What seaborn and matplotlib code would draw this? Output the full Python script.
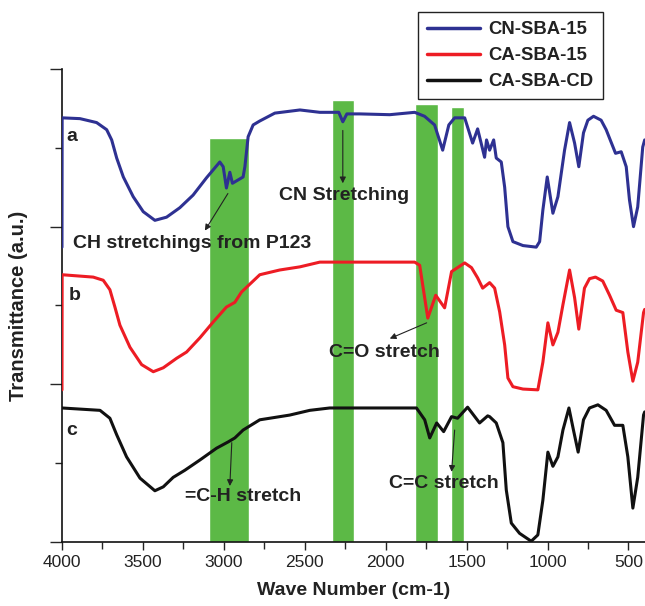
import matplotlib
matplotlib.use("Agg")
import matplotlib.pyplot as plt
import numpy as np
import pandas as pd
import seaborn as sns

# wave numbers (cm-1) and transmittance (a.u.)
wn_a = [4000, 3999, 3889, 3786, 3724, 3693, 3662, 3621, 3560, 3498, 3426, 3354, 3272,
        3190, 3107, 3025, 3004, 2984, 2963, 2947, 2881, 2870, 2850, 2819, 2778, 2685,
        2530, 2407, 2290, 2265, 2240, 2160, 1975, 1821, 1760, 1698, 1648, 1610, 1574,
        1512, 1463, 1432, 1389, 1377, 1358, 1333, 1317, 1286, 1265, 1245, 1214, 1152,
        1070, 1049, 1029, 1002, 967, 936, 895, 864, 833, 807, 778, 751, 716, 669, 638,
        580, 545, 514, 494, 469, 443, 412, 400]
tr_a = [3.74, 5.38, 5.37, 5.32, 5.23, 5.10, 4.87, 4.63, 4.38, 4.19, 4.08, 4.12, 4.24,
        4.40, 4.62, 4.82, 4.76, 4.49, 4.69, 4.55, 4.63, 4.76, 5.14, 5.29, 5.34, 5.44,
        5.48, 5.45, 5.45, 5.33, 5.43, 5.43, 5.42, 5.45, 5.40, 5.29, 4.97, 5.29, 5.38,
        5.38, 5.06, 5.24, 4.88, 5.10, 4.97, 5.10, 4.87, 4.82, 4.50, 4.00, 3.81, 3.76,
        3.74, 3.81, 4.21, 4.63, 4.17, 4.38, 4.97, 5.32, 5.06, 4.76, 5.19, 5.35, 5.40,
        5.35, 5.23, 4.93, 4.95, 4.76, 4.34, 4.00, 4.25, 5.01, 5.10]

wn_b = [4000, 3999, 3807, 3745, 3704, 3673, 3642, 3580, 3508, 3436, 3374, 3292, 3230,
        3148, 3066, 2984, 2932, 2891, 2778, 2655, 2530, 2407, 2000, 1821, 1790, 1740,
        1691, 1636, 1593, 1512, 1470, 1432, 1401, 1358, 1327, 1296, 1265, 1245, 1214,
        1152, 1060, 1029, 998, 967, 936, 905, 864, 833, 807, 772, 741, 704, 659, 617,
        576, 535, 504, 473, 443, 407, 400]
tr_b = [1.93, 3.39, 3.36, 3.32, 3.20, 2.98, 2.75, 2.47, 2.25, 2.16, 2.21, 2.33, 2.41,
        2.59, 2.79, 2.98, 3.04, 3.17, 3.39, 3.45, 3.49, 3.55, 3.55, 3.55, 3.51, 2.84,
        3.13, 2.97, 3.43, 3.54, 3.48, 3.35, 3.22, 3.29, 3.22, 2.92, 2.50, 2.08, 1.97,
        1.94, 1.93, 2.28, 2.78, 2.50, 2.66, 3.01, 3.45, 3.10, 2.70, 3.22, 3.34, 3.36,
        3.31, 3.13, 2.94, 2.91, 2.41, 2.04, 2.28, 2.91, 2.95]

wn_c = [4000, 3765, 3704, 3662, 3601, 3518, 3426, 3374, 3313, 3241, 3148, 3045, 2973,
        2932, 2881, 2778, 2716, 2593, 2469, 2346, 1810, 1759, 1728, 1685, 1642, 1593,
        1556, 1494, 1420, 1370, 1358, 1317, 1276, 1255, 1224, 1173, 1101, 1060, 1029,
        998, 967, 936, 905, 868, 840, 811, 778, 741, 689, 638, 586, 535, 504, 473, 443,
        407, 400]
tr_c = [1.70, 1.67, 1.57, 1.36, 1.08, 0.81, 0.65, 0.70, 0.82, 0.91, 1.04, 1.19, 1.27,
        1.32, 1.42, 1.55, 1.57, 1.61, 1.67, 1.70, 1.70, 1.55, 1.32, 1.51, 1.40, 1.59,
        1.57, 1.71, 1.51, 1.60, 1.59, 1.51, 1.26, 0.66, 0.24, 0.11, 0.01, 0.09, 0.53,
        1.14, 0.96, 1.08, 1.42, 1.70, 1.42, 1.14, 1.55, 1.70, 1.74, 1.67, 1.48, 1.48,
        1.08, 0.43, 0.82, 1.61, 1.65]

series = ["CN-SBA-15", "CA-SBA-15", "CA-SBA-CD"]
colors = ["#2e3192", "#ed1c24", "#111111"]
curve_labels = ["a", "b", "c"]

# highlighted bands: start, end (cm-1), top
band_lo = [3090, 2333, 1821, 1599]
band_hi = [2845, 2198, 1679, 1519]
band_top = [5.13, 5.61, 5.55, 5.52]

df = pd.concat([
    pd.DataFrame({"wn": wn_a, "T": tr_a, "sample": series[0]}),
    pd.DataFrame({"wn": wn_b, "T": tr_b, "sample": series[1]}),
    pd.DataFrame({"wn": wn_c, "T": tr_c, "sample": series[2]}),
])

sns.set_style("ticks")
plt.rcParams["font.family"] = ["Liberation Sans", "DejaVu Sans"]

fig = plt.figure(figsize=(6.45, 6.06), dpi=100)
ax = fig.add_axes([0.0961, 0.1056, 0.9039, 0.7806])

centers = [(lo + hi) / 2 for lo, hi in zip(band_lo, band_hi)]
widths = [lo - hi for lo, hi in zip(band_lo, band_hi)]
ax.bar(centers, band_top, width=widths, color="#5cb946", zorder=1)

for name, col in zip(series, colors):
    sub = df[df["sample"] == name]
    sns.lineplot(x=sub["wn"].values, y=sub["T"].values, color=col, lw=2.2,
                 estimator=None, sort=False, ax=ax, label=name, zorder=3,
                 solid_joinstyle="round", solid_capstyle="round")

ax.set_xlim(4000, 398)
ax.set_ylim(0, 6)
ax.set_xticks([4000, 3500, 3000, 2500, 2000, 1500, 1000, 500])
ax.set_xticks(np.arange(3750, 398, -500), minor=True)
ax.set_yticks([0, 2, 4, 6])
ax.set_yticks([1, 3, 5], minor=True)
ax.set_yticklabels([])
ax.tick_params(axis="x", which="major", length=6, width=1, labelsize=12.5, colors="#222222")
ax.tick_params(axis="x", which="minor", length=5, width=1)
ax.tick_params(axis="y", which="major", length=9, width=1)
ax.tick_params(axis="y", which="minor", length=5, width=1)
for s in ["top", "right"]:
    ax.spines[s].set_visible(False)
for s in ["left", "bottom"]:
    ax.spines[s].set_color("#111111")
    ax.spines[s].set_linewidth(1.2)
    ax.spines[s].set_zorder(2)

ax.set_xlabel("Wave Number (cm-1)", fontsize=14, fontweight="bold", color="#222222")
ax.set_ylabel("Transmittance (a.u.)", fontsize=14.5, fontweight="bold", color="#222222")
ax.xaxis.set_label_coords(0.5, -0.085)
ax.yaxis.set_label_coords(-0.058, 0.5)

tk = dict(fontsize=14, fontweight="bold", color="#222222", va="center", ha="left", zorder=4)
ax.text(3975, 5.14, curve_labels[0], **tk)
ax.text(3960, 3.13, curve_labels[1], **tk)
ax.text(3975, 1.42, curve_labels[2], **tk)
ax.text(3932, 3.79, "CH stretchings from P123", **tk)
ax.text(2660, 4.40, "CN Stretching", **tk)
ax.text(2352, 2.41, "C=O stretch", **tk)
ax.text(3241, 0.58, "=C-H stretch", **tk)
ax.text(1981, 0.74, "C=C stretch", **tk)

arrow = dict(arrowstyle="-|>", color="#222222", lw=0.8, mutation_scale=9, shrinkA=0, shrinkB=0)
ax.annotate("", xy=(3117, 3.95), xytext=(2975, 4.42), arrowprops=arrow, zorder=4)
ax.annotate("", xy=(2265, 4.55), xytext=(2265, 5.22), arrowprops=arrow, zorder=4)
ax.annotate("", xy=(1975, 2.58), xytext=(1747, 2.78), arrowprops=arrow, zorder=4)
ax.annotate("", xy=(2963, 0.71), xytext=(2951, 1.26), arrowprops=arrow, zorder=4)
ax.annotate("", xy=(1593, 0.89), xytext=(1574, 1.42), arrowprops=arrow, zorder=4)

handles, labels = ax.get_legend_handles_labels()
if ax.get_legend() is not None:
    ax.get_legend().remove()
leg = fig.legend(handles, labels, loc="upper right", bbox_to_anchor=(0.935, 0.98),
                 frameon=True, fancybox=False, edgecolor="#222222", framealpha=1,
                 prop={"weight": "bold", "size": 13.3}, handlelength=2.9,
                 labelspacing=0.48, borderpad=0.5, handletextpad=0.45, borderaxespad=0)
leg.get_frame().set_linewidth(1.0)
for t in leg.get_texts():
    t.set_color("#222222")
for h in leg.get_lines():
    h.set_linewidth(2.5)

fig.savefig("out.png", dpi=100)
